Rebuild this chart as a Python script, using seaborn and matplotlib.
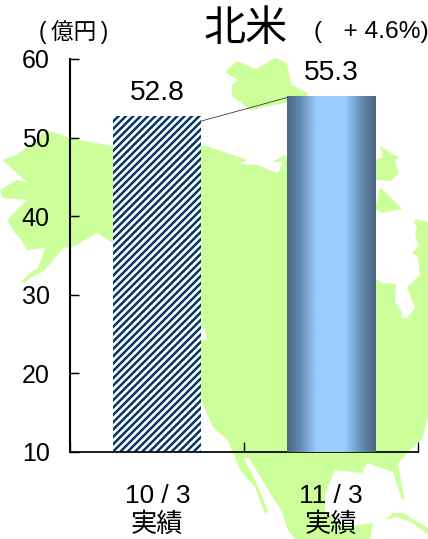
import matplotlib
matplotlib.use("Agg")
import matplotlib.pyplot as plt
from matplotlib.colors import LinearSegmentedColormap
import numpy as np
import seaborn as sns

sns.set_theme(style="white")
plt.rcParams["font.family"] = ["Liberation Sans", "Noto Sans CJK JP"]
plt.rcParams["hatch.linewidth"] = 2.0

PERIODS = ["10 / 3\n実績", "11 / 3\n実績"]
VALUES = [52.8, 55.3]
Y_TICKS = [10, 20, 30, 40, 50, 60]

GREEN = "#ccff99"
NAVY = "#003366"
# Bar shading, edge to edge.
BAR_SHADE = [(0.0, "#4d6680"), (0.15, "#6289b0"), (0.33, "#99ccff"),
             (0.65, "#99ccff"), (0.85, "#6289b0"), (1.0, "#4d6680")]

# Background map outlines, in image pixels.
MAP_MAIN = [
    (47, 130), (72, 139), (113, 146), (207, 146), (247, 160), (240, 164),
    (257, 165), (278, 173), (283, 162), (272, 162), (285, 155), (300, 170),
    (330, 200), (375, 278), (382, 283),
    (396, 284), (395, 302), (402, 312), (401, 318), (407, 318), (415, 308),
    (407, 288), (420, 275), (418, 257), (412, 253), (419, 246), (415, 235),
    (417, 227), (414, 223), (415, 219), (428, 222), (428, 417), (422, 440),
    (417, 443), (398, 463), (404, 498), (402, 500), (393, 472), (367, 463),
    (362, 473), (335, 470), (325, 495), (325, 512), (343, 527), (373, 523),
    (370, 539), (295, 539), (288, 530), (282, 512), (270, 493), (249, 458),
    (244, 458), (256, 482), (268, 511), (265, 514), (255, 487), (240, 470),
    (235, 457), (227, 440), (213, 427), (201, 400), (113, 400), (113, 243),
    (97, 233), (73, 247), (63, 248), (45, 270), (18, 285), (30, 273),
    (38, 268), (45, 248), (27, 250), (20, 238), (15, 233), (7, 220),
    (27, 200), (3, 198), (0, 190), (17, 180), (28, 183), (2, 160), (17, 155),
]
MAP_ARCTIC = [
    (225, 72), (237, 61), (256, 69), (275, 58), (287, 63), (291, 84),
    (309, 94), (300, 100), (250, 110), (232, 96), (232, 85), (238, 80),
]
MAP_BAFFIN = [
    (380, 146), (399, 158), (395, 161), (399, 173), (391, 181), (375, 180),
    (370, 170), (375, 160), (383, 157),
]
MAP_ISLAND = [(380, 187), (402, 209), (382, 213), (375, 209)]
MAP_CUBA = [
    (385, 520), (392, 513), (403, 513), (428, 528), (428, 535), (413, 523),
    (397, 517),
]
MAP_HOLE = [(201, 328), (205, 329), (207, 340), (201, 340)]

fig = plt.figure(figsize=(428 / 88, 539 / 88), facecolor="white")

# Map layer sits behind the chart and uses pixel coordinates.
bg = fig.add_axes([0, 0, 1, 1], zorder=0)
bg.set_xlim(0, 428)
bg.set_ylim(539, 0)
bg.axis("off")
for shape in [MAP_MAIN, MAP_ARCTIC, MAP_BAFFIN, MAP_ISLAND, MAP_CUBA]:
    xs, ys = zip(*shape)
    bg.fill(xs, ys, color=GREEN, linewidth=0)
xs, ys = zip(*MAP_HOLE)
bg.fill(xs, ys, color="white", linewidth=0)

ax = fig.add_axes([70.3 / 428, 1 - 451.7 / 539, 348 / 428, 392.7 / 539], zorder=1)
ax.set_facecolor("none")
sns.barplot(x=PERIODS, y=VALUES, width=0.506, color="white", saturation=1, ax=ax)

left_bar, right_bar = ax.containers[0].patches
left_bar.set(facecolor="white", edgecolor=NAVY, hatch="////", linewidth=0)

# Shade the second bar with a horizontal gradient.
cmap = LinearSegmentedColormap.from_list("bar_shade", BAR_SHADE)
ax.imshow(
    np.linspace(0, 1, 256).reshape(1, -1),
    cmap=cmap, aspect="auto", zorder=3,
    extent=[right_bar.get_x(), right_bar.get_x() + right_bar.get_width(),
            Y_TICKS[0], VALUES[1]],
)
right_bar.set_visible(False)

ax.bar_label(ax.containers[0], fmt="%.1f", padding=8, fontsize=23, color="black")

# Thin connector between the two bar tops.
ax.plot([left_bar.get_x() + left_bar.get_width(), right_bar.get_x()],
        [VALUES[0] - 0.7, VALUES[1] - 0.2],
        color="#222222", linewidth=0.6, zorder=4)

ax.set_xlim(-0.5, 1.5)
ax.set_ylim(Y_TICKS[0], Y_TICKS[-1])
ax.set_yticks(Y_TICKS)
ax.set_xticks([-0.5, 0.5, 1.5], minor=True)
ax.tick_params(axis="y", direction="in", left=True, length=7.5, width=1.2,
               pad=17, labelsize=20.5, colors="black")
ax.tick_params(axis="x", which="major", length=0, pad=26.5, labelsize=21.5,
               colors="black")
ax.tick_params(axis="x", which="minor", direction="in", bottom=True, length=8,
               width=1.1, color="black")
for label in ax.get_xticklabels():
    label.set_linespacing(1.2)
ax.set_xlabel("")
ax.set_ylabel("")
sns.despine(ax=ax)
ax.spines["left"].set(color="black", linewidth=1.7)
ax.spines["bottom"].set(color="black", linewidth=1.4)

bg.text(245.5, 30, "北米", ha="center", va="center", fontsize=34.5, color="black")
bg.text(371.5, 32, "(\u2009\u2009\u2009 + 4.6%)", ha="center", va="center", fontsize=20, color="black")
bg.text(73.5, 32, "(\u2009億円\u2009)", ha="center", va="center", fontsize=18.5, color="black")

fig.savefig("out.png", dpi=88)
